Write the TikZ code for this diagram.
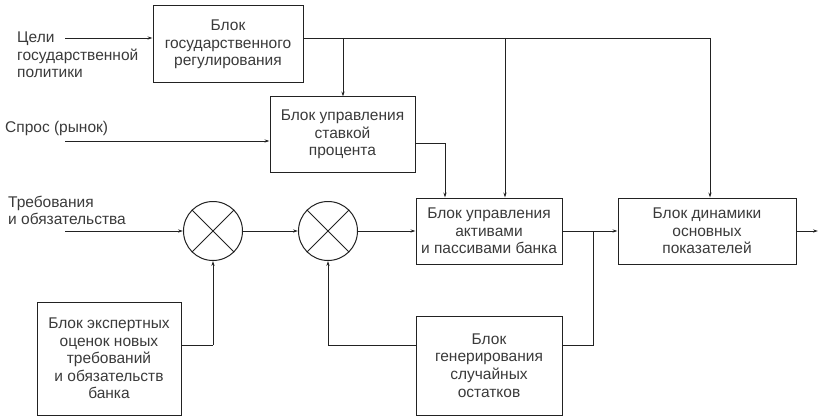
\documentclass[tikz,border=0pt]{standalone}
\usepackage{fontspec}
\setmainfont{Liberation Sans}
\usetikzlibrary{arrows.meta}
\definecolor{ink}{HTML}{222222}
\definecolor{txt}{HTML}{3A3A3A}
\begin{document}
\begin{tikzpicture}[x=1pt,y=-1pt,
  ln/.style={draw=ink,line width=0.9pt},
  arr/.style={ln,-{Stealth[length=5pt,width=3.2pt]}},
  blk/.style={draw=ink,line width=1pt,rectangle,align=center,inner sep=0pt,
    text=txt,font=\fontsize{15.5}{17.6}\selectfont},
  lbl/.style={align=left,inner sep=0pt,text=txt,font=\fontsize{15.5}{17.6}\selectfont},
  sj/.style={draw=ink,line width=1pt,circle,minimum size=59pt,inner sep=0pt}]
\useasboundingbox (0,0) rectangle (818,417);
% blocks
\node[blk,minimum width=150pt,minimum height=77pt] (b1) at (228,44.5) {Блок\\государственного\\регулирования};
\node[blk,minimum width=145pt,minimum height=75pt] (b2) at (342.5,134.5) {Блок управления\\ставкой\\процента};
\node[blk,minimum width=146pt,minimum height=66pt] (ap) at (489,231) {Блок управления\\активами\\и пассивами банка};
\node[blk,minimum width=178pt,minimum height=66pt] (dyn) at (707,231) {Блок динамики\\основных\\показателей};
\node[blk,minimum width=144pt,minimum height=113pt] (ex) at (109,358.5) {Блок экспертных\\оценок новых\\требований\\и обязательств\\банка};
\node[blk,minimum width=146pt,minimum height=99pt] (gen) at (489,365.5) {Блок\\генерирования\\случайных\\остатков};
% summing junctions
\node[sj] (c1) at (213,231) {};
\node[sj] (c2) at (328,231) {};
\draw[ln] (c1.north west) -- (c1.south east) (c1.north east) -- (c1.south west);
\draw[ln] (c2.north west) -- (c2.south east) (c2.north east) -- (c2.south west);
% input labels
\node[lbl,anchor=west] (l1) at (17,55) {Цели\\государственной\\политики};
\node[lbl,anchor=west] (l2) at (5,128) {Спрос (рынок)};
\node[lbl,anchor=west] (l3) at (8,210.5) {Требования\\и обязательства};
% coordinates
\coordinate (in1) at (65,38);
\coordinate (in2) at (65,141);
\coordinate (in3) at (65,231);
\coordinate (j1) at (343,38);
\coordinate (j2) at (505,38);
\coordinate (tr) at (710,38);
\coordinate (r2) at (445,143);
\coordinate (j3) at (593,231);
\coordinate (g1) at (593,345);
\coordinate (g2) at (328,345);
\coordinate (e1) at (213,345);
\coordinate (out) at (818,231);
% connectors
\draw[arr] (in1) -- (in1 -| b1.west);
\draw[ln] (b1.east |- in1) -- (tr);
\draw[arr] (tr) -- (tr |- dyn.north);
\draw[arr] (j1) -- (j1 |- b2.north);
\draw[arr] (j2) -- (j2 |- ap.north);
\draw[arr] (in2) -- (in2 -| b2.west);
\draw[ln] (b2.east |- r2) -- (r2);
\draw[arr] (r2) -- (r2 |- ap.north);
\draw[arr] (in3) -- (c1.west);
\draw[arr] (c1.east) -- (c2.west);
\draw[arr] (c2.east) -- (ap.west);
\draw[arr] (ap.east) -- (dyn.west);
\draw[arr] (dyn.east) -- (out);
\draw[ln] (j3) -- (g1) -- (g1 -| gen.east);
\draw[ln] (gen.west |- g2) -- (g2);
\draw[arr] (g2) -- (c2.south);
\draw[ln] (ex.east |- e1) -- (e1);
\draw[arr] (e1) -- (c1.south);
\end{tikzpicture}
\end{document}
